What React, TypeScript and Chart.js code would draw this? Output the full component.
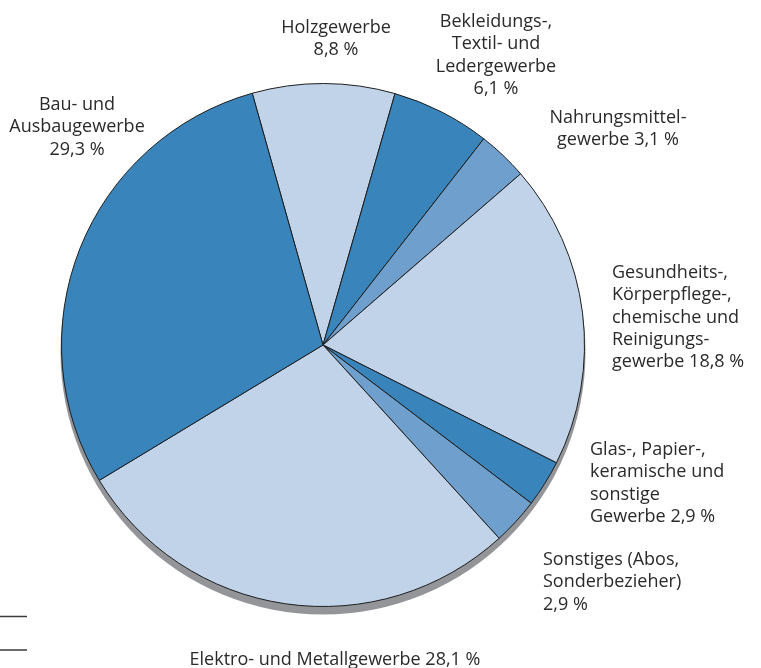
import React, { useEffect, useRef } from "react";
import { Chart, registerables } from "chart.js";

Chart.register(...registerables);

// ---- data ----
const categories: string[] = [
  "Holzgewerbe\n",
  "Bekleidungs-,\nTextil- und\nLedergewerbe\n",
  "Nahrungsmittel-\ngewerbe ",
  "Gesundheits-,\nKörperpflege-,\nchemische und\nReinigungs-\ngewerbe ",
  "Glas-, Papier-,\nkeramische und\nsonstige\nGewerbe ",
  "Sonstiges (Abos,\nSonderbezieher)\n",
  "Elektro- und Metallgewerbe ",
  "Bau- und\nAusbaugewerbe\n",
];
const shares: number[] = [8.8, 6.1, 3.1, 18.8, 2.9, 2.9, 28.1, 29.3];

// ---- styling / layout (not data) ----
const DARK = "#3a84bc";
const MID = "#6f9fcc";
const LIGHT = "#c1d3e9";
const sliceColors = [LIGHT, DARK, MID, LIGHT, DARK, MID, LIGHT, DARK];

type LabelPos = { x: number; y: number; align: CanvasTextAlign };
const labelLayout: LabelPos[] = [
  { x: 336, y: 33, align: "center" },
  { x: 496, y: 27, align: "center" },
  { x: 618, y: 123, align: "center" },
  { x: 612, y: 278, align: "left" },
  { x: 590, y: 455, align: "left" },
  { x: 543, y: 565, align: "left" },
  { x: 335, y: 665, align: "center" },
  { x: 77, y: 110, align: "center" },
];
const LINE_H = 22.3;
const FONT = '18px "Open Sans"';
const TEXT_COLOR = "#2a2a2a";

const fmt = (v: number) => v.toFixed(1).replace(".", ",") + " %";

const shadowPlugin = {
  id: "pieShadow",
  beforeDatasetsDraw(chart: any) {
    const meta = chart.getDatasetMeta(0);
    const arc = meta.data[0];
    if (!arc) return;
    const { x, y, outerRadius } = arc.getProps(["x", "y", "outerRadius"], true);
    const ctx = chart.ctx;
    ctx.save();
    ctx.fillStyle = "#949599";
    ctx.beginPath();
    ctx.arc(x, y + 7, outerRadius + 1, 0, Math.PI * 2);
    ctx.fill();
    ctx.restore();
  },
};

const labelPlugin = {
  id: "pieLabels",
  afterDraw(chart: any) {
    const ctx = chart.ctx;
    ctx.save();
    ctx.font = FONT;
    ctx.fillStyle = TEXT_COLOR;
    ctx.textBaseline = "alphabetic";
    const labels: string[] = chart.data.labels;
    const values: number[] = chart.data.datasets[0].data;
    labels.forEach((lab, i) => {
      const pos = labelLayout[i];
      const text = lab + fmt(values[i]);
      ctx.textAlign = pos.align;
      text.split("\n").forEach((line, j) => {
        ctx.fillText(line, pos.x, pos.y + j * LINE_H);
      });
    });
    // two short rule marks at the lower left
    ctx.strokeStyle = "#3a3a3a";
    ctx.lineWidth = 1.5;
    [616.5, 650].forEach((yy) => {
      ctx.beginPath();
      ctx.moveTo(0, yy);
      ctx.lineTo(27, yy);
      ctx.stroke();
    });
    ctx.restore();
  },
};

export default function App() {
  const ref = useRef<HTMLCanvasElement | null>(null);
  useEffect(() => {
    if (!ref.current) return;
    const chart = new Chart(ref.current, {
      type: "pie",
      data: {
        labels: categories,
        datasets: [
          {
            data: shares,
            backgroundColor: sliceColors,
            borderColor: "#1e1e1e",
            borderWidth: 1,
          },
        ],
      },
      options: {
        responsive: false,
        animation: false,
        devicePixelRatio: 1,
        rotation: -15.7,
        layout: { padding: { left: 61, right: 176, top: 83, bottom: 61 } },
        plugins: {
          legend: { display: false },
          tooltip: { enabled: false },
        },
      },
      plugins: [shadowPlugin, labelPlugin],
    });
    return () => chart.destroy();
  }, []);
  return (
    <div style={{ position: "absolute", left: 0, top: 0, width: 761, height: 668, background: "#fff" }}>
      <canvas ref={ref} width={761} height={668} style={{ width: 761, height: 668, display: "block" }} />
    </div>
  );
}
